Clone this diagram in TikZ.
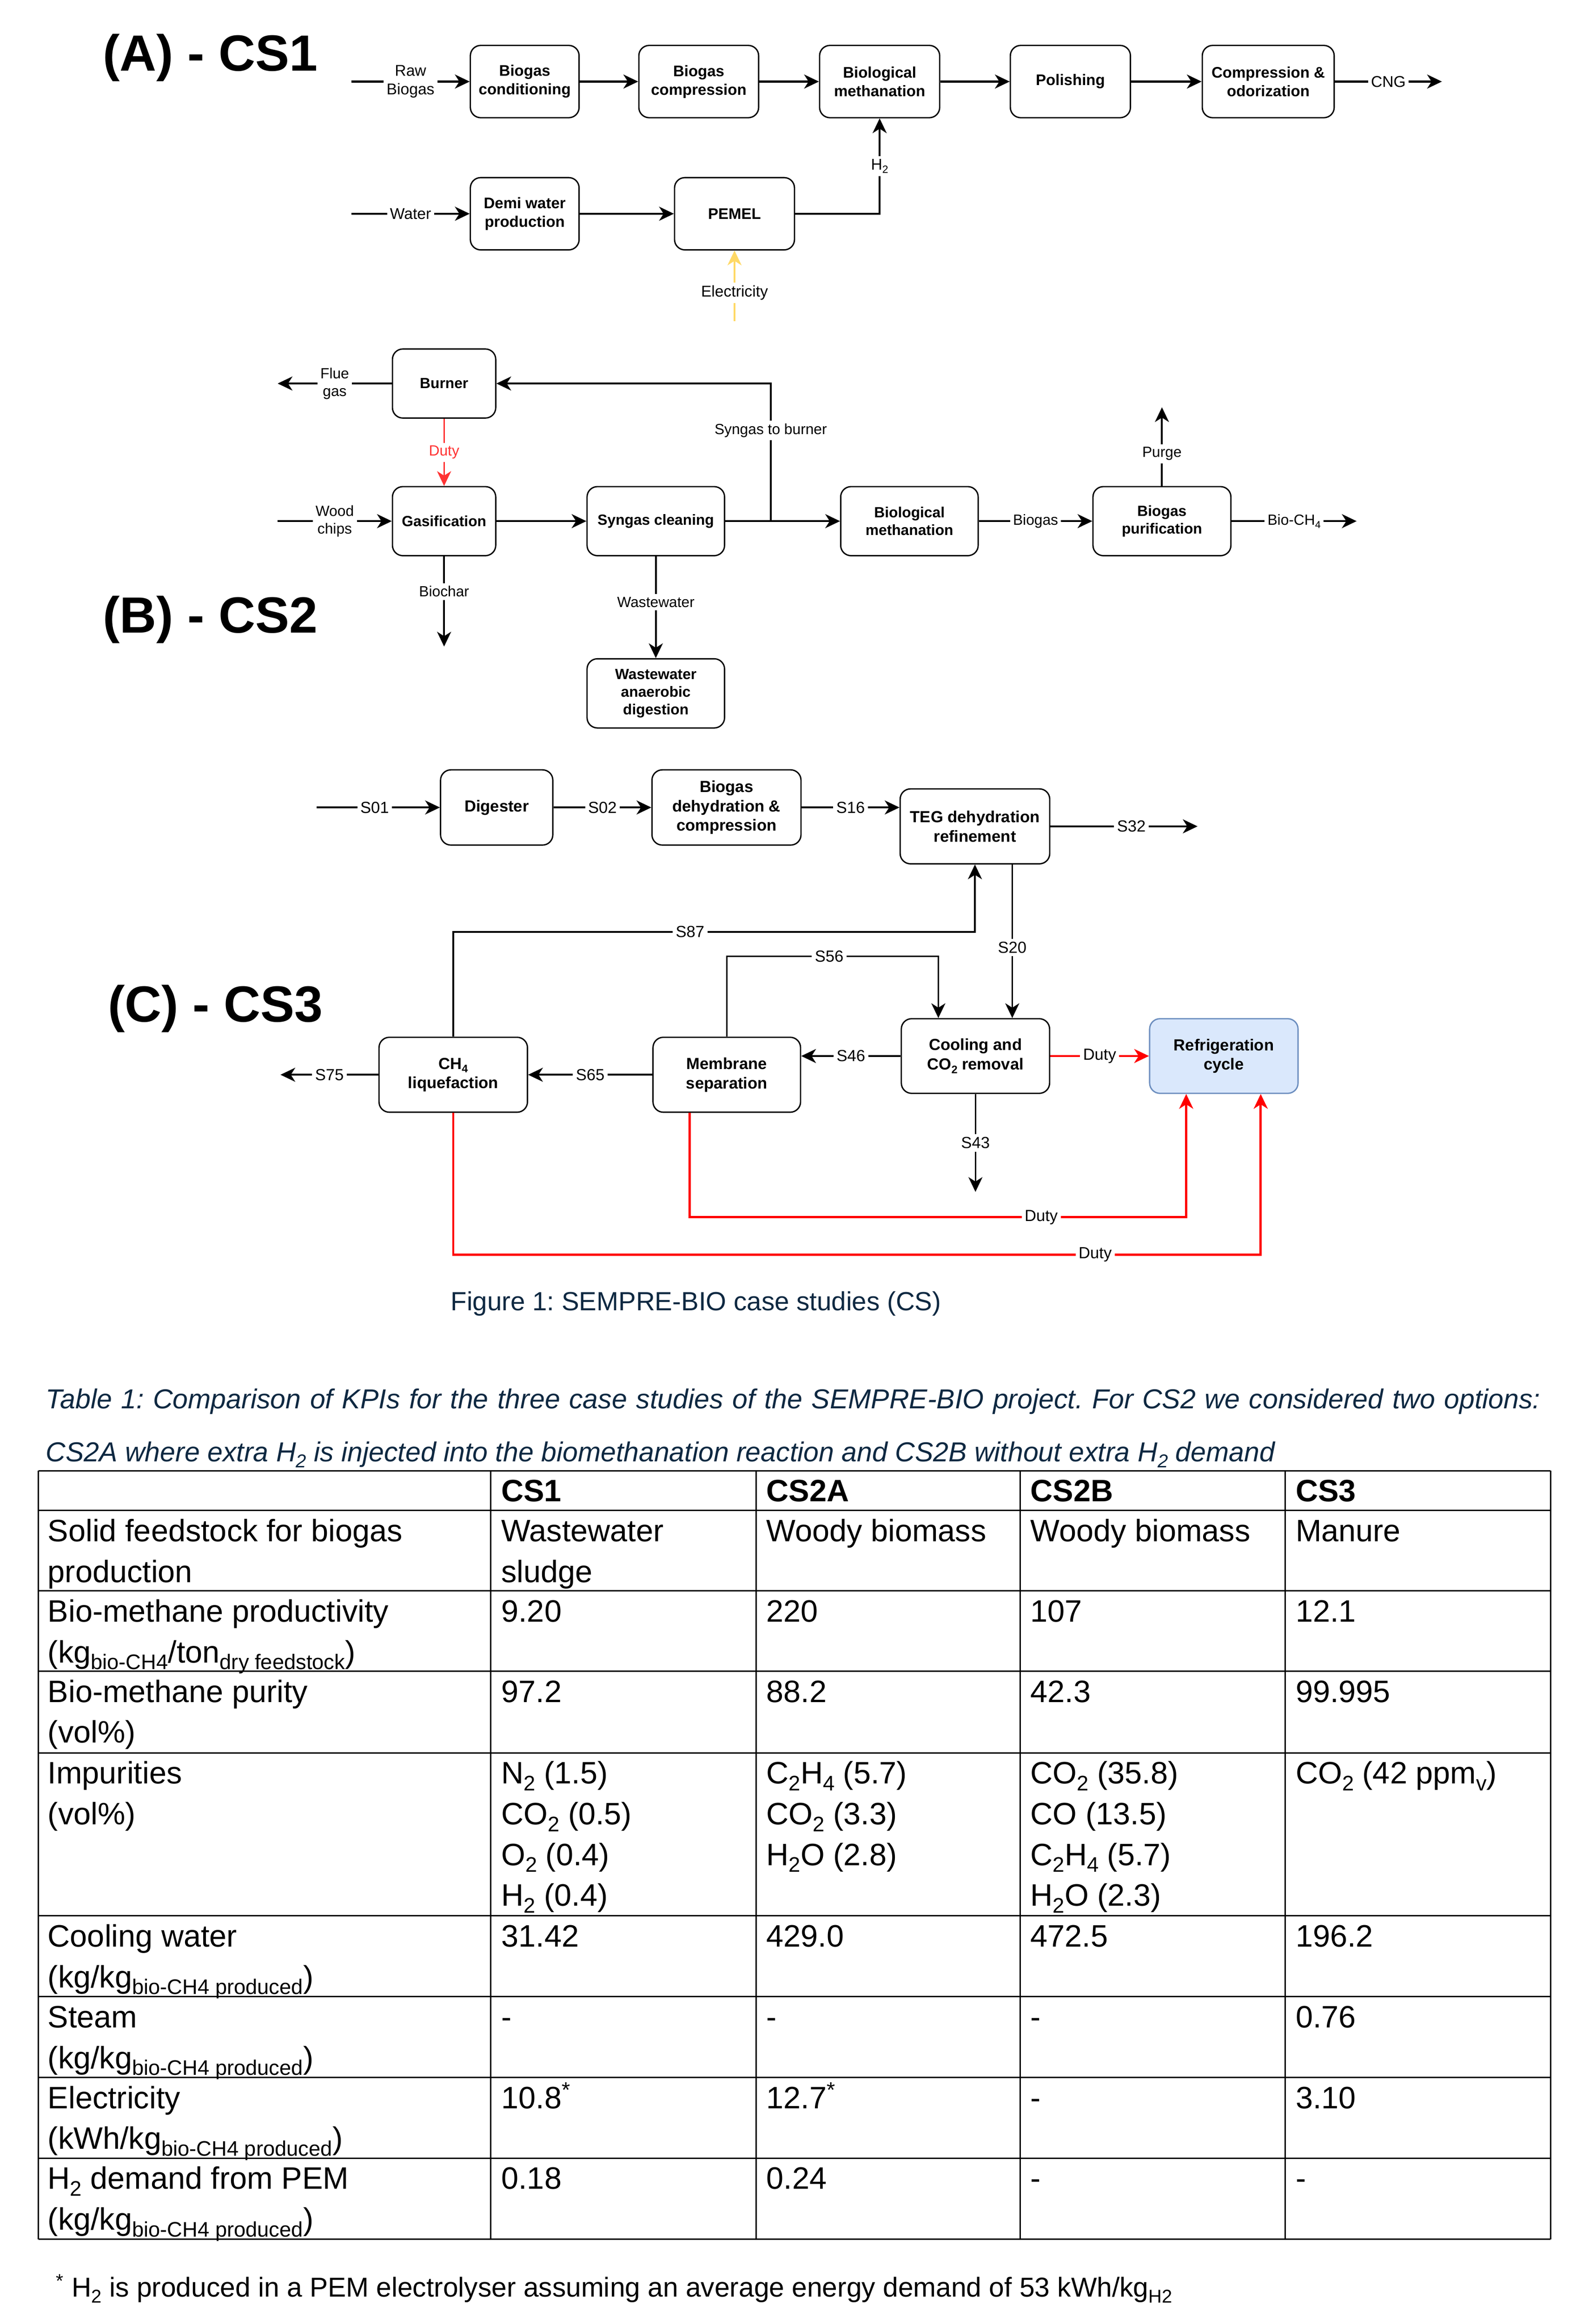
\documentclass[tikz,border=0pt]{standalone}
\usepackage{fontspec}
\setmainfont{Liberation Sans}
\usetikzlibrary{arrows.meta}
\frenchspacing
\definecolor{navy}{HTML}{0E2841}
\definecolor{elec}{HTML}{FFD966}
\definecolor{dutyA}{HTML}{FF3333}
\definecolor{dutyB}{HTML}{FF0000}
\definecolor{rfill}{HTML}{DAE8FC}
\definecolor{rdraw}{HTML}{6C8EBF}
\newcommand\fsz[2]{\fontsize{#1}{#2}\selectfont}
\newcommand\sbs[1]{\raisebox{-0.22em}{\scalebox{0.68}{#1}}}
\newcommand\tcl[4]{\node[tc] (#1) at (#2,#3) {#4};}
\begin{document}
\begin{tikzpicture}[x=1pt,y=-1pt,
  pbox/.style={draw=black, line width=0.9pt, rounded corners=7pt, align=center, inner sep=1pt},
  bfA/.style={font=\fsz{10.4}{12.6}\bfseries},
  bfB/.style={font=\fsz{10}{12}\bfseries},
  bfC/.style={font=\fsz{10.9}{13.1}\bfseries},
  lbl/.style={fill=white, inner sep=2pt, align=center},
  lblA/.style={lbl, font=\fsz{10.6}{12.8}},
  lblB/.style={lbl, font=\fsz{10}{12}},
  lblC/.style={lbl, font=\fsz{10.9}{13.1}},
  atip/.style={-{Stealth[length=10pt,width=9.5pt,inset=3pt]}},
  arrA/.style={atip, line width=1.4pt},
  arrB/.style={atip, line width=1.2pt},
  arrC/.style={atip, line width=1.2pt},
  thinC/.style={atip, line width=1pt},
  yarr/.style={atip, draw=elec, line width=1.1pt},
  rarrB/.style={atip, draw=dutyA, line width=1.1pt},
  rarrC/.style={atip, draw=dutyB, line width=1.5pt},
  ttl/.style={anchor=base west, inner sep=0pt, font=\fsz{34.5}{40}\bfseries},
  tc/.style={anchor=base west, inner sep=0pt, font=\fsz{21}{25}},
  thd/.style={tc, font=\fsz{21}{25}\bfseries},
  tline/.style={line width=0.9pt},
]
\fill[white] (0,0) rectangle (1077,1575.5);
\useasboundingbox (0,0) rectangle (1077,1575.5);

% ================= CS1 =================
\node[ttl] (tA) at (69.5,48) {(A) - CS1};
\node[pbox,bfA,minimum width=73.7pt,minimum height=49pt] (bcond) at (355.65,55.3) {Biogas\\conditioning};
\node[pbox,bfA,minimum width=81.2pt,minimum height=49pt] (bcomp) at (473.6,55.3) {Biogas\\compression};
\node[pbox,bfA,minimum width=81.4pt,minimum height=49pt] (bmeth) at (596.2,55.3) {Biological\\methanation};
\node[pbox,bfA,minimum width=81.4pt,minimum height=49pt] (polish) at (725.5,55.3) {Polishing};
\node[pbox,bfA,minimum width=89.4pt,minimum height=49pt] (compod) at (859.6,55.3) {Compression \&\\odorization};
\node[pbox,bfA,minimum width=73.7pt,minimum height=49pt] (demi) at (355.65,144.9) {Demi water\\production};
\node[pbox,bfA,minimum width=81.3pt,minimum height=49pt] (pemel) at (497.85,144.9) {PEMEL};
\coordinate (rawin) at (238.2,55.3);
\coordinate (cngout) at (977.3,55.3);
\coordinate (watin) at (238.2,144.9);
\coordinate (elin) at (497.85,217.8);
\draw[arrA] (rawin) -- node[lblA]{Raw\\Biogas} (bcond);
\draw[arrA] (bcond) -- (bcomp);
\draw[arrA] (bcomp) -- (bmeth);
\draw[arrA] (bmeth) -- (polish);
\draw[arrA] (polish) -- (compod);
\draw[arrA] (compod) -- node[lblA]{CNG} (cngout);
\draw[arrA] (watin) -- node[lblA]{Water} (demi);
\draw[arrA] (demi) -- (pemel);
\draw[arrA] (pemel) -| node[lblA,pos=0.75]{H\sbs{2}} (bmeth);
\draw[yarr] (elin) -- node[lblA,pos=0.405]{Electricity} (pemel);

% ================= CS2 =================
\node[ttl] (tB) at (69.5,429) {(B) - CS2};
\node[pbox,bfB,minimum width=70pt,minimum height=46.8pt] (burner) at (301,260) {Burner};
\node[pbox,bfB,minimum width=70pt,minimum height=46.8pt] (gasif) at (301,353.3) {Gasification};
\node[pbox,bfB,minimum width=93.2pt,minimum height=46.8pt] (sclean) at (444.5,353.3) {Syngas cleaning};
\node[pbox,bfB,minimum width=93.2pt,minimum height=46.9pt] (wwad) at (444.5,470.05) {Wastewater\\anaerobic\\digestion};
\node[pbox,bfB,minimum width=93.2pt,minimum height=46.8pt] (bmethb) at (616.4,353.3) {Biological\\methanation};
\node[pbox,bfB,minimum width=93.5pt,minimum height=46.8pt] (purif) at (787.55,353.3) {Biogas\\purification};
\coordinate (fgout) at (188.2,260);
\coordinate (wcin) at (188.2,353.3);
\coordinate (bcout) at (301,438.3);
\coordinate (split) at (522.4,353.3);
\coordinate (pgout) at (787.55,276.1);
\coordinate (bchout) at (919.5,353.3);
\draw[arrB] (burner) -- node[lblB]{Flue\\gas} (fgout);
\draw[arrB] (wcin) -- node[lblB]{Wood\\chips} (gasif);
\draw[rarrB] (burner) -- node[lblB,text=dutyA]{Duty} (gasif);
\draw[arrB] (gasif) -- node[lblB,pos=0.39]{Biochar} (bcout);
\draw[arrB] (gasif) -- (sclean);
\draw[arrB] (sclean) -- node[lblB,pos=0.45]{Wastewater} (wwad);
\draw[arrB] (sclean) -- (bmethb);
\draw[arrB] (split) |- node[lblB,pos=0.33]{Syngas to burner} (burner);
\draw[arrB] (bmethb) -- node[lblB]{Biogas} (purif);
\draw[arrB] (purif) -- node[lblB,pos=0.41]{Purge} (pgout);
\draw[arrB] (purif) -- node[lblB]{Bio-CH\sbs{4}} (bchout);

% ================= CS3 =================
\node[ttl] (tC) at (73,692.6) {(C) - CS3};
\node[pbox,bfC,minimum width=76.1pt,minimum height=51pt] (dig) at (336.65,547.4) {Digester};
\node[pbox,bfC,minimum width=101pt,minimum height=51pt] (dehyd) at (492.4,547.4) {Biogas\\dehydration \&\\compression};
\node[pbox,bfC,minimum width=101.4pt,minimum height=50.8pt] (teg) at (660.8,560.2) {TEG dehydration\\refinement};
\node[pbox,bfC,minimum width=100.6pt,minimum height=50.8pt] (ch4) at (307.2,728.6) {CH\sbs{4}\\liquefaction};
\node[pbox,bfC,minimum width=100pt,minimum height=50.8pt] (memb) at (492.6,728.6) {Membrane\\separation};
\node[pbox,bfC,minimum width=100.5pt,minimum height=50.6pt] (cool) at (661.15,715.9) {Cooling and\\CO\sbs{2} removal};
\node[pbox,bfC,minimum width=100.6pt,minimum height=50.6pt,fill=rfill,draw=rdraw] (refr) at (829.5,715.9) {Refrigeration\\cycle};
\coordinate (s01in) at (214.7,547.4);
\coordinate (s32out) at (811.7,560.2);
\coordinate (k87) at (307.2,631.7);
\coordinate (x20) at (686.1,600);
\coordinate (k56) at (492.6,648.3);
\coordinate (k56b) at (636,648.3);
\coordinate (s75out) at (190.1,728.6);
\coordinate (s43out) at (661.15,808);
\coordinate (md1) at (467.4,825.2);
\coordinate (md2) at (804,825.2);
\coordinate (cd1) at (307.2,850.5);
\coordinate (cd2) at (854.5,850.5);
\draw[arrC] (s01in) -- node[lblC,pos=0.47]{S01} (dig);
\draw[arrC] (dig) -- node[lblC]{S02} (dehyd);
\draw[arrC] (dehyd.east) -- node[lblC]{S16} (dehyd.east -| teg.west);
\draw[arrC] (teg) -- node[lblC,pos=0.55]{S32} (s32out);
\draw[arrC] (ch4.north) -- (k87) -- node[lblC,pos=0.454]{S87} (k87 -| teg.south) -- (teg.south);
\draw[thinC] (x20 |- teg.south) -- node[lblC,pos=0.54]{S20} (x20 |- cool.north);
\draw[thinC] (memb.north) -- (k56) -- node[lblC,pos=0.484]{S56} (k56b) -- (k56b |- cool.north);
\draw[arrC] (cool.west) -- node[lblC]{S46} (cool.west -| memb.east);
\draw[arrC] (memb) -- node[lblC]{S65} (ch4);
\draw[arrC] (ch4) -- node[lblC]{S75} (s75out);
\draw[thinC] (cool) -- node[lblC]{S43} (s43out);
\draw[rarrC] (cool) -- node[lblC]{Duty} (refr);
\draw[rarrC] (md1 |- memb.south) -- (md1) -- node[lblC,pos=0.708]{Duty} (md2) -- (md2 |- refr.south);
\draw[rarrC] (ch4.south) -- (cd1) -- node[lblC,pos=0.795]{Duty} (cd2) -- (cd2 |- refr.south);

% ================= Captions =================
\node[anchor=base west, inner sep=0pt, font=\fsz{17.8}{21}, text=navy] (figcap) at (305.3,888.5) {Figure 1: SEMPRE-BIO case studies (CS)};
\node[anchor=base west, inner sep=0pt, font=\fsz{18.6}{22}\itshape, text=navy] (tabcapa) at (30.9,955) {\makebox[1013pt][s]{Table 1: Comparison of KPIs for the three case studies of the SEMPRE-BIO project. For CS2 we considered two options:}};
\node[anchor=base west, inner sep=0pt, font=\fsz{18.6}{22}\itshape, text=navy] (tabcapb) at (30.9,990.7) {CS2A where extra H\sbs{2} is injected into the biomethanation reaction and CS2B without extra H\sbs{2} demand};

% ================= Table =================
\foreach \yy in {997,1024,1078.5,1133,1188.3,1298.8,1353.6,1408.3,1463.1,1518}
  \draw[tline] (26.1,\yy) -- (1050.9,\yy);
\foreach \xx in {26.1,332.7,512.4,691.5,871.2,1050.9}
  \draw[tline] (\xx,997) -- (\xx,1518);

\node[thd] (h1) at (339.6,1018) {CS1};
\node[thd] (h2) at (519.3,1018) {CS2A};
\node[thd] (h3) at (698.3,1018) {CS2B};
\node[thd] (h4) at (878,1018) {CS3};

\tcl{r1a}{32.2}{1045}{Solid feedstock for biogas}
\tcl{r1b}{32.2}{1072.6}{production}
\tcl{r1c}{339.6}{1045}{Wastewater}
\tcl{r1d}{339.6}{1072.6}{sludge}
\tcl{r1e}{519.3}{1045}{Woody biomass}
\tcl{r1f}{698.3}{1045}{Woody biomass}
\tcl{r1g}{878}{1045}{Manure}

\tcl{r2a}{32.2}{1099.5}{Bio-methane productivity}
\tcl{r2b}{32.2}{1127.1}{(kg\sbs{bio-CH4}/ton\sbs{dry feedstock})}
\tcl{r2c}{339.6}{1099.5}{9.20}
\tcl{r2d}{519.3}{1099.5}{220}
\tcl{r2e}{698.3}{1099.5}{107}
\tcl{r2f}{878}{1099.5}{12.1}

\tcl{r3a}{32.2}{1154}{Bio-methane purity}
\tcl{r3b}{32.2}{1181.6}{(vol\%)}
\tcl{r3c}{339.6}{1154}{97.2}
\tcl{r3d}{519.3}{1154}{88.2}
\tcl{r3e}{698.3}{1154}{42.3}
\tcl{r3f}{878}{1154}{99.995}

\tcl{r4a}{32.2}{1209.3}{Impurities}
\tcl{r4b}{32.2}{1236.9}{(vol\%)}
\tcl{r4c}{339.6}{1209.3}{N\sbs{2} (1.5)}
\tcl{r4d}{339.6}{1236.9}{CO\sbs{2} (0.5)}
\tcl{r4e}{339.6}{1264.5}{O\sbs{2} (0.4)}
\tcl{r4f}{339.6}{1292.1}{H\sbs{2} (0.4)}
\tcl{r4g}{519.3}{1209.3}{C\sbs{2}H\sbs{4} (5.7)}
\tcl{r4h}{519.3}{1236.9}{CO\sbs{2} (3.3)}
\tcl{r4i}{519.3}{1264.5}{H\sbs{2}O (2.8)}
\tcl{r4j}{698.3}{1209.3}{CO\sbs{2} (35.8)}
\tcl{r4k}{698.3}{1236.9}{CO (13.5)}
\tcl{r4l}{698.3}{1264.5}{C\sbs{2}H\sbs{4} (5.7)}
\tcl{r4m}{698.3}{1292.1}{H\sbs{2}O (2.3)}
\tcl{r4n}{878}{1209.3}{CO\sbs{2} (42 ppm\sbs{v})}

\tcl{r5a}{32.2}{1319.8}{Cooling water}
\tcl{r5b}{32.2}{1347.4}{(kg/kg\sbs{bio-CH4 produced})}
\tcl{r5c}{339.6}{1319.8}{31.42}
\tcl{r5d}{519.3}{1319.8}{429.0}
\tcl{r5e}{698.3}{1319.8}{472.5}
\tcl{r5f}{878}{1319.8}{196.2}

\tcl{r6a}{32.2}{1374.6}{Steam}
\tcl{r6b}{32.2}{1402.2}{(kg/kg\sbs{bio-CH4 produced})}
\tcl{r6c}{339.6}{1374.6}{-}
\tcl{r6d}{519.3}{1374.6}{-}
\tcl{r6e}{698.3}{1374.6}{-}
\tcl{r6f}{878}{1374.6}{0.76}

\tcl{r7a}{32.2}{1429.3}{Electricity}
\tcl{r7b}{32.2}{1456.9}{(kWh/kg\sbs{bio-CH4 produced})}
\tcl{r7c}{339.6}{1429.3}{10.8\textsuperscript{*}}
\tcl{r7d}{519.3}{1429.3}{12.7\textsuperscript{*}}
\tcl{r7e}{698.3}{1429.3}{-}
\tcl{r7f}{878}{1429.3}{3.10}

\tcl{r8a}{32.2}{1484.1}{H\sbs{2} demand from PEM}
\tcl{r8b}{32.2}{1511.7}{(kg/kg\sbs{bio-CH4 produced})}
\tcl{r8c}{339.6}{1484.1}{0.18}
\tcl{r8d}{519.3}{1484.1}{0.24}
\tcl{r8e}{698.3}{1484.1}{-}
\tcl{r8f}{878}{1484.1}{-}

\node[anchor=base west, inner sep=0pt, font=\fsz{18.5}{22}] (fnote) at (37.8,1557) {\textsuperscript{*} H\sbs{2} is produced in a PEM electrolyser assuming an average energy demand of 53 kWh/kg\sbs{H2}};
\end{tikzpicture}
\end{document}
